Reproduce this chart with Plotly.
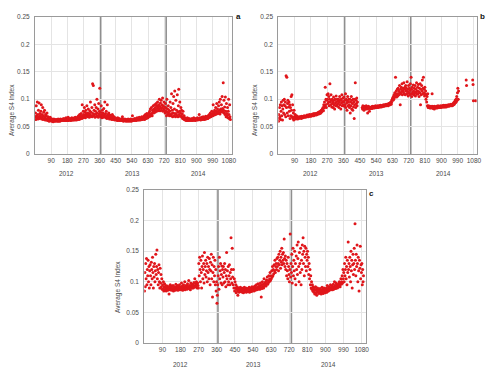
import plotly.graph_objects as go

# ---------------- data (average S4 index, one value every 2 days) ----------------
a_vals = [
    .068,.075,.063,.088,.07,.066,.095,.072,.064,.08,.068,.093,.065,.074,.07,
    .066,.078,.09,.064,.072,.068,.085,.063,.07,.076,.065,.08,.067,.062,.072,
    .064,.07,.062,.075,.065,.061,.068,.063,.066,.06,.064,.062,.067,.061,.063,
    .062,.06,.064,.061,.063,.059,.062,.064,.06,.063,.061,.062,.06,.063,.061,
    .061,.063,.06,.062,.064,.06,.062,.061,.063,.06,.064,.062,.061,.063,.062,
    .062,.064,.061,.063,.062,.065,.061,.063,.062,.064,.061,.066,.062,.063,.061,
    .063,.062,.067,.061,.064,.063,.062,.065,.063,.061,.064,.062,.066,.063,.062,
    .064,.062,.065,.063,.066,.062,.064,.067,.063,.065,.062,.066,.064,.063,.068,
    .065,.07,.063,.068,.072,.064,.07,.066,.074,.068,.065,.09,.07,.066,.078,
    .072,.067,.085,.07,.076,.066,.08,.073,.069,.088,.071,.075,.068,.082,.07,
    .074,.067,.079,.072,.095,.069,.076,.07,.085,.068,.128,.074,.125,.07,.08,
    .072,.09,.067,.078,.073,.085,.069,.1,.075,.07,.082,.067,.092,.073,.078,
    .12,.07,.076,.068,.088,.072,.066,.08,.07,.075,.067,.083,.069,.072,.095,
    .068,.074,.066,.078,.07,.065,.09,.069,.072,.066,.075,.068,.064,.071,.067,
    .065,.07,.064,.068,.063,.072,.066,.064,.069,.063,.067,.065,.062,.066,.064,
    .063,.065,.062,.064,.061,.066,.063,.062,.065,.061,.064,.062,.063,.061,.064,
    .062,.063,.061,.068,.062,.064,.06,.063,.061,.062,.064,.061,.063,.06,.062,
    .061,.063,.062,.06,.064,.061,.062,.063,.06,.062,.061,.064,.062,.06,.063,
    .062,.07,.061,.063,.062,.064,.061,.063,.065,.062,.063,.061,.064,.062,.066,
    .063,.062,.065,.064,.062,.067,.063,.065,.062,.066,.064,.063,.068,.065,.063,
    .066,.064,.068,.065,.07,.063,.067,.072,.066,.069,.065,.074,.068,.07,.066,
    .072,.068,.075,.07,.078,.069,.082,.073,.071,.085,.074,.07,.08,.076,.088,
    .075,.082,.078,.09,.076,.085,.08,.092,.078,.088,.083,.095,.079,.086,.09,
    .082,.1,.087,.079,.093,.084,.098,.08,.09,.085,.102,.078,.088,.082,.095,
    .08,.086,.075,.092,.078,.084,.07,.1,.076,.082,.072,.088,.075,.08,.07,
    .078,.095,.072,.085,.07,.11,.074,.08,.068,.092,.075,.105,.07,.082,.115,
    .074,.068,.098,.072,.08,.07,.108,.076,.068,.088,.118,.072,.078,.095,.069,
    .075,.085,.07,.08,.067,.073,.065,.078,.068,.064,.07,.063,.066,.062,.065,
    .063,.061,.064,.062,.066,.061,.063,.062,.065,.061,.064,.063,.062,.064,.061,
    .063,.062,.065,.063,.061,.064,.062,.066,.063,.062,.064,.061,.063,.065,.062,
    .064,.063,.066,.062,.065,.063,.064,.072,.063,.066,.064,.062,.065,.063,.067,
    .064,.066,.063,.068,.065,.064,.067,.063,.066,.065,.069,.064,.066,.068,.065,
    .067,.065,.07,.066,.068,.072,.067,.07,.075,.068,.072,.069,.078,.071,.074,
    .07,.09,.073,.076,.071,.08,.074,.072,.085,.078,.073,.092,.076,.082,.074,
    .078,.088,.075,.095,.08,.073,.1,.082,.077,.09,.079,.105,.083,.076,.13,
    .08,.098,.075,.086,.072,.104,.078,.068,.092,.074,.07,.085,.066,.078,.1,
    .072,.065,.09,.068,.063,
]

b_vals = [
    .06,.072,.065,.085,.068,.09,.063,.078,.095,.07,.088,.062,.082,.098,.075,
    .09,.1,.072,.088,.095,.068,.143,.085,.14,.075,.092,.098,.07,.086,.095,
    .078,.09,.065,.085,.07,.105,.08,.108,.068,.09,.065,.075,.062,.08,.068,
    .065,.072,.064,.068,.066,.07,.065,.067,.064,.068,.066,.065,.067,.066,.068,
    .066,.068,.067,.065,.069,.067,.068,.066,.069,.068,.067,.07,.068,.069,.067,
    .069,.068,.07,.068,.071,.069,.07,.068,.071,.07,.069,.072,.07,.071,.069,
    .071,.07,.072,.07,.073,.071,.072,.07,.074,.072,.071,.073,.072,.074,.071,
    .073,.072,.075,.073,.074,.076,.073,.075,.077,.074,.076,.078,.075,.08,.077,
    .078,.082,.08,.085,.079,.09,.084,.095,.087,.122,.09,.1,.085,.098,.108,
    .1,.092,.11,.095,.105,.088,.1,.128,.095,.09,.108,.098,.086,.1,.092,
    .095,.085,.104,.09,.098,.082,.1,.093,.088,.106,.095,.09,.1,.087,.097,
    .092,.1,.085,.095,.105,.09,.098,.082,.1,.093,.108,.088,.096,.102,.09,
    .095,.104,.087,.098,.09,.11,.085,.1,.093,.08,.097,.105,.088,.095,.1,
    .09,.085,.1,.075,.095,.088,.105,.082,.098,.092,.08,.1,.086,.095,.065,
    .09,.1,.13,.085,.098,.092,.102,.088,.095,None,None,None,None,None,None,
    None,None,None,None,None,None,.085,.082,.088,.083,.086,.08,.084,.087,.082,
    .085,.083,.088,.084,.082,.086,.075,.084,.087,.083,.085,.078,.086,.084,.083,
    .085,.084,.086,.083,.087,.085,.084,.086,.085,.087,.084,.086,.085,.088,.085,
    .086,.085,.087,.086,.088,.085,.087,.086,.088,.087,.086,.089,.087,.088,.086,
    .088,.087,.089,.087,.088,.09,.087,.089,.088,.09,.088,.089,.091,.088,.09,
    .089,.091,.09,.088,.092,.09,.091,.093,.09,.092,.095,.091,.094,.098,.1,
    .102,.098,.105,.1,.108,.103,.112,.105,.14,.108,.115,.104,.11,.118,.106,
    .12,.11,.115,.108,.125,.112,.09,.118,.11,.122,.114,.128,.108,.116,.12,
    .113,.13,.11,.118,.122,.108,.125,.115,.12,.11,.132,.114,.118,.106,.125,
    .112,.12,.108,.116,.128,.11,.14,.118,.105,.122,.113,.11,.126,.115,.108,
    .12,.112,.125,.106,.118,.113,.13,.109,.115,.122,.11,.127,.114,.105,.12,
    .112,.128,.09,.118,.108,.125,.115,.135,.11,.12,.14,.112,.118,.106,.122,
    .11,.115,.1,.108,.095,.105,.088,.11,.085,.088,.086,.085,.087,.084,.086,
    .085,.087,.084,.086,.11,.085,.087,.083,.086,.085,.082,.087,.085,.086,.084,
    .086,.085,.087,.084,.086,.088,.085,.087,.086,.085,.087,.086,.088,.085,.087,
    .087,.086,.088,.086,.087,.089,.086,.088,.087,.086,.089,.087,.088,.086,.089,
    .088,.087,.089,.088,.09,.087,.089,.088,.09,.089,.088,.091,.089,.09,.088,
    .09,.089,.092,.09,.094,.091,.095,.093,.098,.094,.1,.096,.105,.098,.112,
    .12,.1,.115,None,None,None,None,None,None,None,None,None,None,None,None,
    None,None,None,None,None,None,None,None,.135,.125,None,None,None,None,None,
    None,None,None,None,None,None,None,None,None,None,None,.135,.127,.097,None,
    None,None,None,None,.097,
]

c_vals = [
    .085,.115,.092,.13,.105,.138,.095,.12,.11,.135,.1,.125,.09,.118,.128,
    .11,.095,.132,.12,.105,.14,.115,.09,.125,.108,.13,.1,.118,.145,.112,
    .125,.152,.105,.12,.095,.115,.128,.1,.09,.122,.098,.112,.092,.105,.088,
    .095,.088,.1,.085,.092,.097,.087,.09,.094,.085,.09,.088,.093,.086,.091,
    .089,.08,.092,.087,.095,.088,.091,.086,.093,.089,.087,.094,.085,.09,.088,
    .092,.086,.09,.096,.087,.091,.088,.094,.086,.09,.092,.087,.095,.089,.088,
    .091,.087,.098,.089,.093,.086,.09,.095,.088,.092,.1,.087,.091,.094,.089,
    .093,.088,.097,.09,.092,.102,.089,.094,.091,.087,.098,.092,.095,.09,.093,
    .096,.09,.094,.099,.091,.105,.093,.097,.092,.1,.095,.09,.098,.094,.09,
    .13,.11,.14,.12,.1,.135,.115,.09,.125,.142,.105,.12,.13,.098,.148,
    .112,.125,.135,.108,.118,.13,.1,.14,.115,.125,.105,.138,.12,.095,.132,
    .118,.145,.105,.128,.075,.115,.14,.1,.125,.11,.135,.095,.12,.085,.1,
    .065,.078,.095,.11,.125,.088,.14,.105,.118,.13,.098,.112,.126,.095,.12,
    .108,.125,.098,.115,.13,.1,.12,.092,.11,.148,.105,.118,.095,.125,.1,
    .11,.128,.095,.115,.105,.172,.12,.098,.155,.108,.095,.12,.09,.105,.085,
    .1,.09,.095,.082,.088,.092,.085,.078,.09,.087,.083,.089,.086,.091,.084,
    .088,.085,.09,.083,.087,.089,.082,.086,.091,.084,.088,.085,.09,.083,.087,
    .085,.089,.084,.088,.086,.091,.083,.087,.09,.085,.088,.084,.092,.086,.089,
    .087,.091,.085,.089,.093,.086,.09,.088,.095,.087,.091,.089,.097,.088,.092,
    .09,.094,.088,.098,.091,.075,.095,.089,.1,.092,.096,.09,.105,.093,.098,
    .095,.1,.093,.103,.097,.108,.096,.102,.099,.11,.1,.105,.115,.102,.11,
    .105,.118,.108,.125,.11,.12,.113,.128,.118,.135,.115,.125,.13,.12,.138,
    .125,.14,.13,.118,.145,.128,.135,.15,.122,.14,.132,.155,.128,.145,.135,
    .148,.13,.17,.138,.125,.142,.12,.135,.11,.13,.118,.105,.14,.125,.112,
    .1,.12,.178,.108,.13,.115,.145,.098,.125,.155,.11,.135,.118,.15,.105,
    .13,.095,.142,.12,.16,.112,.138,.165,.125,.1,.148,.13,.115,.155,.095,
    .135,.12,.16,.145,.172,.13,.15,.11,.158,.14,.125,.155,.118,.145,.135,
    .15,.125,.14,.112,.13,.105,.12,.095,.11,.09,.1,.088,.095,.085,.092,
    .087,.083,.09,.08,.086,.092,.082,.088,.078,.085,.09,.083,.087,.081,.086,
    .084,.089,.082,.087,.08,.085,.091,.083,.088,.081,.086,.09,.084,.087,.082,
    .088,.085,.09,.083,.094,.087,.089,.085,.092,.086,.09,.088,.095,.087,.091,
    .089,.093,.087,.091,.096,.088,.092,.1,.09,.094,.089,.098,.092,.095,.09,
    .094,.091,.097,.093,.1,.095,.092,.098,.105,.096,.1,.11,.098,.12,.105,
    .115,.1,.13,.11,.12,.14,.105,.125,.095,.135,.115,.165,.12,.13,.108,
    .14,.125,.1,.15,.118,.135,.09,.128,.145,.112,.13,.155,.12,.195,.135,
    .11,.145,.125,.16,.13,.1,.14,.118,.085,.135,.122,.158,.105,.128,.115,
    .13,.095,.12,.1,.11,
]

x_ticks = [90, 180, 270, 360, 450, 540, 630, 720, 810, 900, 990, 1080]
y_ticks = [0, 0.05, 0.1, 0.15, 0.2, 0.25]
y_tick_text = ["0", "0.05", "0.1", "0.15", "0.2", "0.25"]
year_labels = ["2012", "2013", "2014"]
year_mid_days = [178, 543, 913]
year_boundaries = [366, 731]
panel_letters = ["a", "b", "c"]
y_title = "Average S4 Index"

# ---------------- figure ----------------
# the page body has an 8 px margin, so the figure is 492 x 374
W, H = 492, 374
RED = "#e0161b"
FONT = "Liberation Sans, Arial, sans-serif"
TXT = "#4a4a4a"
fig = go.Figure()

panels = [
    dict(vals=a_vals, xa="x", ya="y", xdom=[0.0549, 0.4553], ydom=[0.6096, 0.9759], xr=[0, 1098],
         letter=(0.4695, 0.9786), year_y=0.5588, title=(0.0081, 0.727)),
    dict(vals=b_vals, xa="x2", ya="y2", xdom=[0.5494, 0.9526], ydom=[0.6096, 0.9759], xr=[0, 1095],
         letter=(0.9654, 0.9786), year_y=0.5588, title=(0.502, 0.727)),
    dict(vals=c_vals, xa="x3", ya="y3", xdom=[0.2770, 0.7270], ydom=[0.1043, 0.5134], xr=[0, 1100],
         letter=(0.7392, 0.5027), year_y=0.0481, title=(0.2236, 0.254)),
]

for i, p in enumerate(panels):
    days = list(range(1, 2 * len(p["vals"]), 2))
    fig.add_trace(go.Scatter(
        x=days, y=p["vals"], mode="markers", xaxis=p["xa"], yaxis=p["ya"],
        marker=dict(color=RED, size=3.0, line=dict(width=0)), showlegend=False,
        hoverinfo="skip"))
    suffix = "" if i == 0 else str(i + 1)
    axis_common = dict(showline=True, linecolor="#9a9a9a", linewidth=1, mirror=True,
                       showgrid=True, gridcolor="#e4e4e4", gridwidth=1, zeroline=False,
                       ticks="", automargin=False,
                       tickfont=dict(size=6.5, color=TXT, family=FONT))
    fig.layout["xaxis" + suffix] = dict(
        domain=p["xdom"], range=p["xr"], tickmode="array", tickvals=x_ticks,
        tickangle=0, anchor="y" + suffix, **axis_common)
    fig.layout["yaxis" + suffix] = dict(
        domain=p["ydom"], range=[0, 0.25], tickmode="array", tickvals=y_ticks,
        ticktext=y_tick_text, anchor="x" + suffix, ticklabelstandoff=3, **axis_common)
    for xb in year_boundaries:
        fig.add_shape(type="line", xref=p["xa"], yref=p["ya"] + " domain",
                      x0=xb, x1=xb, y0=0, y1=1, line=dict(color="#8f8f8f", width=1.6), layer="below")
    for lab, xm in zip(year_labels, year_mid_days):
        fig.add_annotation(x=xm, y=p["year_y"], xref=p["xa"], yref="paper", text=lab,
                           showarrow=False, xanchor="center", yanchor="middle",
                           font=dict(size=6.5, color=TXT, family=FONT))
    fig.add_annotation(x=p["title"][0], y=p["title"][1], xref="paper", yref="paper",
                       text=y_title, textangle=-90, showarrow=False,
                       xanchor="center", yanchor="middle",
                       font=dict(size=6.5, color=TXT, family=FONT))
    fig.add_annotation(x=p["letter"][0], y=p["letter"][1], xref="paper", yref="paper",
                       text="<b>" + panel_letters[i] + "</b>", showarrow=False,
                       xanchor="center", yanchor="middle",
                       font=dict(size=8, color="#111", family=FONT))

fig.update_layout(width=W, height=H, margin=dict(l=0, r=0, t=0, b=0),
                  paper_bgcolor="white", plot_bgcolor="white", autosize=False)
fig.write_html("out.html")
